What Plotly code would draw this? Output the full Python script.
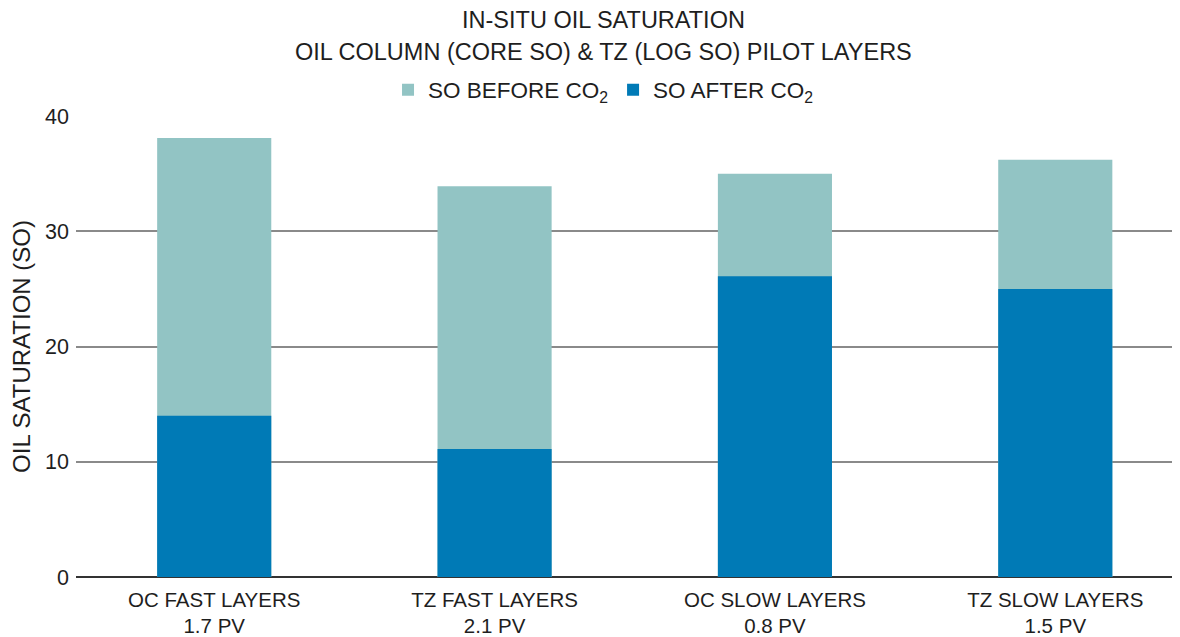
import plotly.graph_objects as go

categories = ["OC FAST LAYERS<br>1.7 PV", "TZ FAST LAYERS<br>2.1 PV",
              "OC SLOW LAYERS<br>0.8 PV", "TZ SLOW LAYERS<br>1.5 PV"]
so_before = [38.1, 33.9, 35.0, 36.2]
so_after = [14.0, 11.1, 26.1, 25.0]
y_ticks = [0, 10, 20, 30, 40]

FONT = "Liberation Sans"
TXT = "#1e1e1e"
W, H = 1172, 629
M_L, M_R, M_T, M_B = 68, 5, 108, 60
PLOT_H = H - M_T - M_B

fig = go.Figure()
fig.add_trace(go.Bar(x=categories, y=so_before, name="SO BEFORE CO<sub>2</sub>",
                     marker=dict(color="#92C4C4", line=dict(width=0)), width=0.407))
fig.add_trace(go.Bar(x=categories, y=so_after, name="SO AFTER CO<sub>2</sub>",
                     marker=dict(color="#007AB6", line=dict(width=0)), width=0.407))

fig.update_layout(
    width=W, height=H, autosize=False,
    barmode="overlay",
    plot_bgcolor="white", paper_bgcolor="white",
    margin=dict(l=M_L, r=M_R, t=M_T, b=M_B, autoexpand=False),
    font=dict(family=FONT, color=TXT, size=20),
    showlegend=True,
    legend=dict(orientation="h", x=0.48, xanchor="center",
                y=1 + 26 / PLOT_H, yanchor="middle", font=dict(size=22.5, color=TXT),
                traceorder="normal", bgcolor="rgba(0,0,0,0)"),
    xaxis=dict(range=[-0.493, 3.427], showgrid=False, showline=False, ticks="",
               tickangle=0, tickfont=dict(size=20.5, color=TXT), fixedrange=True,
               ticklabelstandoff=8),
    yaxis=dict(range=[0, 40], tickvals=y_ticks, showgrid=True, gridcolor="#8a8a8a",
               gridwidth=2, zeroline=True, zerolinecolor="#333333", zerolinewidth=2,
               showline=False, ticks="", tickfont=dict(size=21.5, color=TXT),
               ticklabelstandoff=6,
               title=dict(text="OIL SATURATION (SO)", font=dict(size=24, color=TXT), standoff=8)),
)
fig.add_annotation(text="IN-SITU OIL SATURATION", xref="paper", yref="paper",
                   x=0.48, y=1 + 96 / PLOT_H, showarrow=False,
                   xanchor="center", yanchor="middle", font=dict(size=23.5, color=TXT))
fig.add_annotation(text="OIL COLUMN (CORE SO) & TZ (LOG SO) PILOT LAYERS", xref="paper", yref="paper",
                   x=0.48, y=1 + 64 / PLOT_H, showarrow=False,
                   xanchor="center", yanchor="middle", font=dict(size=23.5, color=TXT))

fig.write_html("out.html")
